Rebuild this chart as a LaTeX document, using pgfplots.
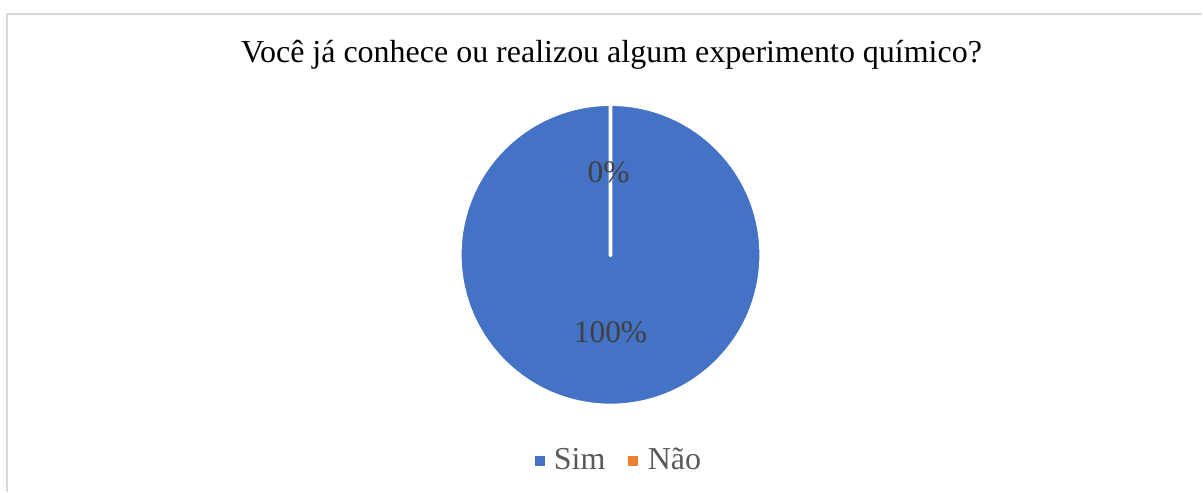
\documentclass[border=0pt]{standalone}
\usepackage{pgfplots}
\usepackage{pgfplotstable}
\pgfplotsset{compat=1.18}
\usepackage{fontspec}
\setmainfont{Liberation Serif}
\definecolor{pieblue}{HTML}{4472C4}
\definecolor{pieorange}{HTML}{ED7D31}
\definecolor{lbl}{HTML}{404040}
\definecolor{leg}{HTML}{595959}
\definecolor{frame}{HTML}{D9D9D9}

\pgfplotstableread[col sep=comma]{
label,value
Sim,100
Não,0
}\piedata
\pgfplotstablegetelem{0}{value}\of\piedata \let\vA\pgfplotsretval
\pgfplotstablegetelem{1}{value}\of\piedata \let\vB\pgfplotsretval
\pgfmathsetmacro\tot{\vA+\vB}
\pgfmathsetmacro\fA{\vA/\tot}
\pgfmathsetmacro\fB{\vB/\tot}
\pgfmathsetmacro\dA{-360*\fA}
\pgfmathsetmacro\sB{90+\dA}
\pgfmathsetmacro\dB{-360*\fB}
\pgfmathtruncatemacro\pAi{round(100*\fA)}
\pgfmathtruncatemacro\pBi{round(100*\fB)}

\begin{document}
\begin{tikzpicture}
\begin{axis}[
  width=601.5pt, height=246pt, scale only axis,
  xmin=0, xmax=1203, ymin=0, ymax=492,
  hide axis, clip=false]
  % frame
  \draw[frame, line width=1pt] (axis cs:7.5,0) -- (axis cs:7.5,477.5) -- (axis cs:1203,477.5);
  \path (axis cs:0,0) rectangle (axis cs:1203,492);
  % title
  \node[anchor=base, font=\fontsize{16pt}{18pt}\selectfont, text=black] at (axis cs:612,429) {Você já conhece ou realizou algum experimento químico?};
  % slices
  \filldraw[fill=pieblue, draw=white, line width=2pt, line join=round]
    (axis cs:611,237) -- ++(90:75.5pt) arc[start angle=90, delta angle=\dA, radius=75.5pt] -- cycle;
  \filldraw[fill=pieorange, draw=white, line width=2pt, line join=round]
    (axis cs:611,237) -- ++(\sB:75.5pt) arc[start angle=\sB, delta angle=\dB, radius=75.5pt] -- cycle;
  % data labels
  \node[text=lbl, font=\fontsize{15.7pt}{17pt}\selectfont] at (axis cs:609,320) {\pBi\%};
  \node[text=lbl, font=\fontsize{15.7pt}{17pt}\selectfont] at (axis cs:611,159) {\pAi\%};
  % legend
  \fill[pieblue] (axis cs:535,26) rectangle (axis cs:545,36);
  \node[anchor=base west, text=leg, font=\fontsize{16pt}{18pt}\selectfont, inner sep=0pt] at (axis cs:554,22) {Sim};
  \fill[pieorange] (axis cs:629,26) rectangle (axis cs:639,36);
  \node[anchor=base west, text=leg, font=\fontsize{16pt}{18pt}\selectfont, inner sep=0pt] at (axis cs:648,22) {Não};
\end{axis}
\end{tikzpicture}
\end{document}
